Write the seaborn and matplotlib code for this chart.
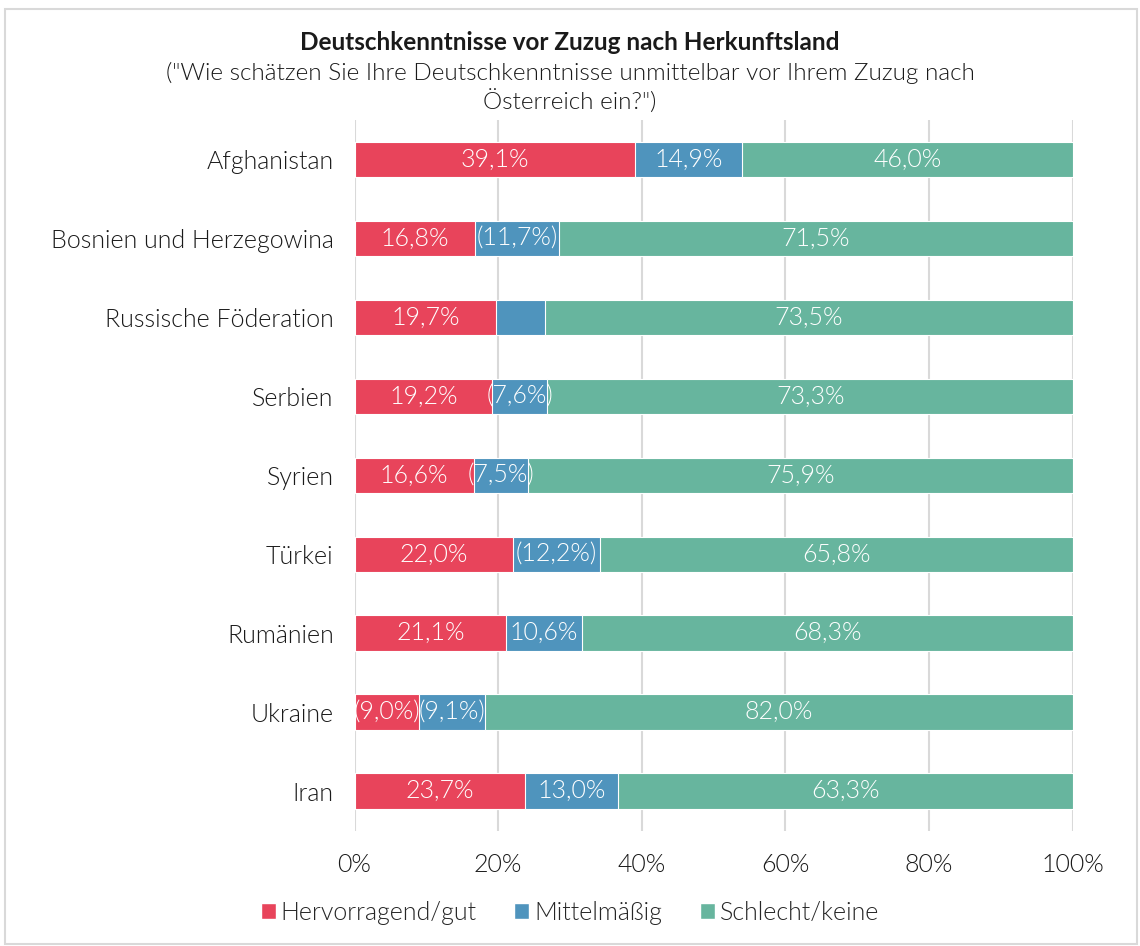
import numpy as np
import pandas as pd
import matplotlib
matplotlib.use("Agg")
import matplotlib.pyplot as plt
import seaborn as sns
from matplotlib.patches import Patch, Rectangle

countries = ["Afghanistan", "Bosnien und Herzegowina", "Russische Föderation", "Serbien",
             "Syrien", "Türkei", "Rumänien", "Ukraine", "Iran"]
gut = [39.1, 16.8, 19.7, 19.2, 16.6, 22.0, 21.1, 9.0, 23.7]
mittel = [14.9, 11.7, 6.8, 7.6, 7.5, 12.2, 10.6, 9.1, 13.0]
schlecht = [46.0, 71.5, 73.5, 73.3, 75.9, 65.8, 68.3, 82.0, 63.3]

gut_labels = ["39,1%", "16,8%", "19,7%", "19,2%", "16,6%", "22,0%", "21,1%", "(9,0%)", "23,7%"]
mittel_labels = ["14,9%", "(11,7%)", "", "(7,6%)", "(7,5%)", "(12,2%)", "10,6%", "(9,1%)", "13,0%"]
schlecht_labels = ["46,0%", "71,5%", "73,5%", "73,3%", "75,9%", "65,8%", "68,3%", "82,0%", "63,3%"]

series = ["Hervorragend/gut", "Mittelmäßig", "Schlecht/keine"]
colors = ["#E8445B", "#4F94BD", "#67B59E"]

sns.set_theme(style="white")
plt.rcParams['font.family'] = ['Lato', 'DejaVu Sans']
plt.rcParams['font.weight'] = 300

df = pd.DataFrame({"land": countries, "gut": gut, "mittel": mittel, "schlecht": schlecht})
df["c1"] = df["gut"]
df["c2"] = df["gut"] + df["mittel"]
df["c3"] = df["c2"] + df["schlecht"]

fig = plt.figure(figsize=(11.4, 9.46), dpi=100)
fig.patches.append(Rectangle((0.004, 0.002), 0.993, 0.988, transform=fig.transFigure,
                             fill=False, edgecolor="#D9D9D9", linewidth=1.5))
ax = fig.add_axes([0.311, 0.122, 0.630, 0.751])

# stacked bars: draw cumulative totals from back to front
for col, c in zip(["c3", "c2", "c1"], colors[::-1]):
    sns.barplot(data=df, x=col, y="land", color=c, orient="h", width=0.45,
                saturation=1, ax=ax, edgecolor="white", linewidth=0.8)

fs = 18
for i in range(len(countries)):
    starts = [0, df["c1"][i], df["c2"][i]]
    widths = [gut[i], mittel[i], schlecht[i]]
    labs = [gut_labels[i], mittel_labels[i], schlecht_labels[i]]
    for s, w, t in zip(starts, widths, labs):
        if t:
            ax.text(s + w / 2, i, t, ha="center", va="center", color="white", fontsize=fs)

ax.set_xlim(0, 100)
ax.set_ylim(len(countries) - 0.5, -0.5)
ax.set_xticks([0, 20, 40, 60, 80, 100])
ax.set_xticklabels(["0%", "20%", "40%", "60%", "80%", "100%"])
ax.xaxis.grid(True, color="#D9D9D9", linewidth=1.5)
ax.set_axisbelow(True)
ax.set_xlabel("")
ax.set_ylabel("")
ax.tick_params(axis="x", labelsize=fs, colors="#1a1a1a", pad=16, length=0)
ax.tick_params(axis="y", labelsize=fs, colors="#1a1a1a", pad=15, length=0)
sns.despine(ax=ax, left=True, bottom=True)

fig.text(0.5, 0.955, "Deutschkenntnisse vor Zuzug nach Herkunftsland", ha="center", va="center",
         fontsize=17.5, fontweight="bold", color="#1a1a1a")
fig.text(0.5, 0.923, "(\"Wie schätzen Sie Ihre Deutschkenntnisse unmittelbar vor Ihrem Zuzug nach",
         ha="center", va="center", fontsize=17.5, color="#1a1a1a")
fig.text(0.5, 0.892, "Österreich ein?\")", ha="center", va="center", fontsize=17.5, color="#1a1a1a")

handles = [Patch(facecolor=c, label=s) for s, c in zip(series, colors)]
fig.legend(handles=handles, loc="center", bbox_to_anchor=(0.5, 0.035), ncol=3, frameon=False,
           fontsize=fs, handlelength=0.6, handleheight=0.6, handletextpad=0.2, columnspacing=1.5)

fig.savefig("out.png", dpi=100)
